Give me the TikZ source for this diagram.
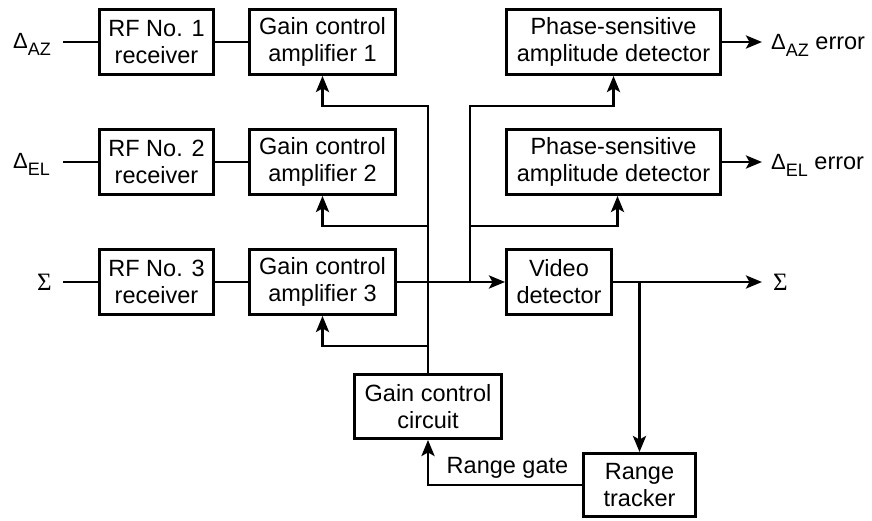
\documentclass[tikz,border=0pt]{standalone}
\usepackage{fontspec}
\setmainfont{Liberation Sans}
\newfontfamily\sigmafont{Liberation Serif}
\usetikzlibrary{arrows.meta}

% text sizes
\newcommand{\boxtext}{\fontsize{23.5}{27}\selectfont}
\newcommand{\deltasym}{{\fontsize{22}{22}\selectfont Δ}}
\newcommand{\sigmasym}{{\sigmafont\fontsize{25}{25}\selectfont Σ}}
\newcommand{\subtext}[1]{\raisebox{-7pt}{\fontsize{18}{18}\selectfont #1}}

\begin{document}
\begin{tikzpicture}[x=1pt,y=-1pt,
  box/.style={draw, line width=2.9pt, minimum height=65pt, inner sep=0pt,
              align=center, font=\boxtext},
  lbl/.style={inner sep=0pt, font=\boxtext},
  wire/.style={line width=2.9pt},
  arr/.style={wire, -{Stealth[length=16pt,width=13pt,inset=3.5pt]}}]
\useasboundingbox (0,0) rectangle (872,521);

% receivers
\node[box, minimum width=114pt] (rf1) at (156.5,42)  {RF No. 1\\receiver};
\node[box, minimum width=114pt] (rf2) at (156.5,162) {RF No. 2\\receiver};
\node[box, minimum width=114pt] (rf3) at (156.5,282) {RF No. 3\\receiver};

% gain control amplifiers
\node[box, minimum width=146pt] (gca1) at (322.5,42)  {Gain control\\amplifier 1};
\node[box, minimum width=146pt] (gca2) at (322.5,162) {Gain control\\amplifier 2};
\node[box, minimum width=146pt] (gca3) at (322.5,282) {Gain control\\amplifier 3};

% detectors
\node[box, minimum width=214pt] (psd1) at (613.5,42)  {Phase-sensitive\\amplitude detector};
\node[box, minimum width=214pt] (psd2) at (613.5,162) {Phase-sensitive\\amplitude detector};
\node[box, minimum width=105pt] (vid)  at (559,282)   {Video\\detector};

% gain control loop
\node[box, minimum width=147pt, minimum height=64pt] (gcc) at (428,406.5) {Gain control\\circuit};
\node[box, minimum width=112pt, minimum height=63pt] (rt)  at (639.5,485) {Range\\tracker};

% input labels
\node[lbl, anchor=base west] (inazl) at (13,49)  {\deltasym\subtext{AZ}};
\node[lbl, anchor=base west] (inell) at (13,169) {\deltasym\subtext{EL}};
\node[lbl, anchor=base west] (insml) at (37,290) {\sigmasym};
\coordinate (inaz) at (63,42);
\coordinate (inel) at (63,162);
\coordinate (insm) at (63,282);

% output labels
\node[lbl, anchor=base west] (outazl) at (771,50)  {\deltasym\subtext{AZ} error};
\node[lbl, anchor=base west] (outell) at (771,170) {\deltasym\subtext{EL} error};
\node[lbl, anchor=base west] (outsml) at (773,290) {\sigmasym};
\coordinate (outaz) at (762,42);
\coordinate (outel) at (762,162);
\coordinate (outsm) at (762,282);

\node[lbl, anchor=base] (rg) at (507.5,473) {Range gate};

% signal chain
\draw[wire] (inaz) -- (rf1);
\draw[wire] (inel) -- (rf2);
\draw[wire] (insm) -- (rf3);
\draw[wire] (rf1) -- (gca1);
\draw[wire] (rf2) -- (gca2);
\draw[wire] (rf3) -- (gca3);
\draw[arr] (gca3) -- (vid);

% reference taps to the phase-sensitive detectors
\coordinate (tap)  at (470,282);
\coordinate (tap1) at (470,106);
\coordinate (tap2) at (470,226);
\draw[arr] (tap) -- (tap1) -| (psd1.south);
\draw[arr] (tap2) -| ([xshift=4pt]psd2.south);

% outputs
\draw[arr] (psd1) -- (outaz);
\draw[arr] (psd2) -- (outel);
\draw[arr] (vid) -- (outsm);

% range tracking
\coordinate (vtap) at (639.5,282);
\draw[arr] (vtap) -- (rt.north);
\draw[arr] (rt.west) -| (gcc.south);

% gain control bus
\coordinate (bus1) at (428,106);
\coordinate (bus2) at (428,226);
\coordinate (bus3) at (428,346);
\draw[arr] (gcc.north) -- (bus1) -| (gca1.south);
\draw[arr] (bus2) -| (gca2.south);
\draw[arr] (bus3) -| (gca3.south);
\end{tikzpicture}
\end{document}
